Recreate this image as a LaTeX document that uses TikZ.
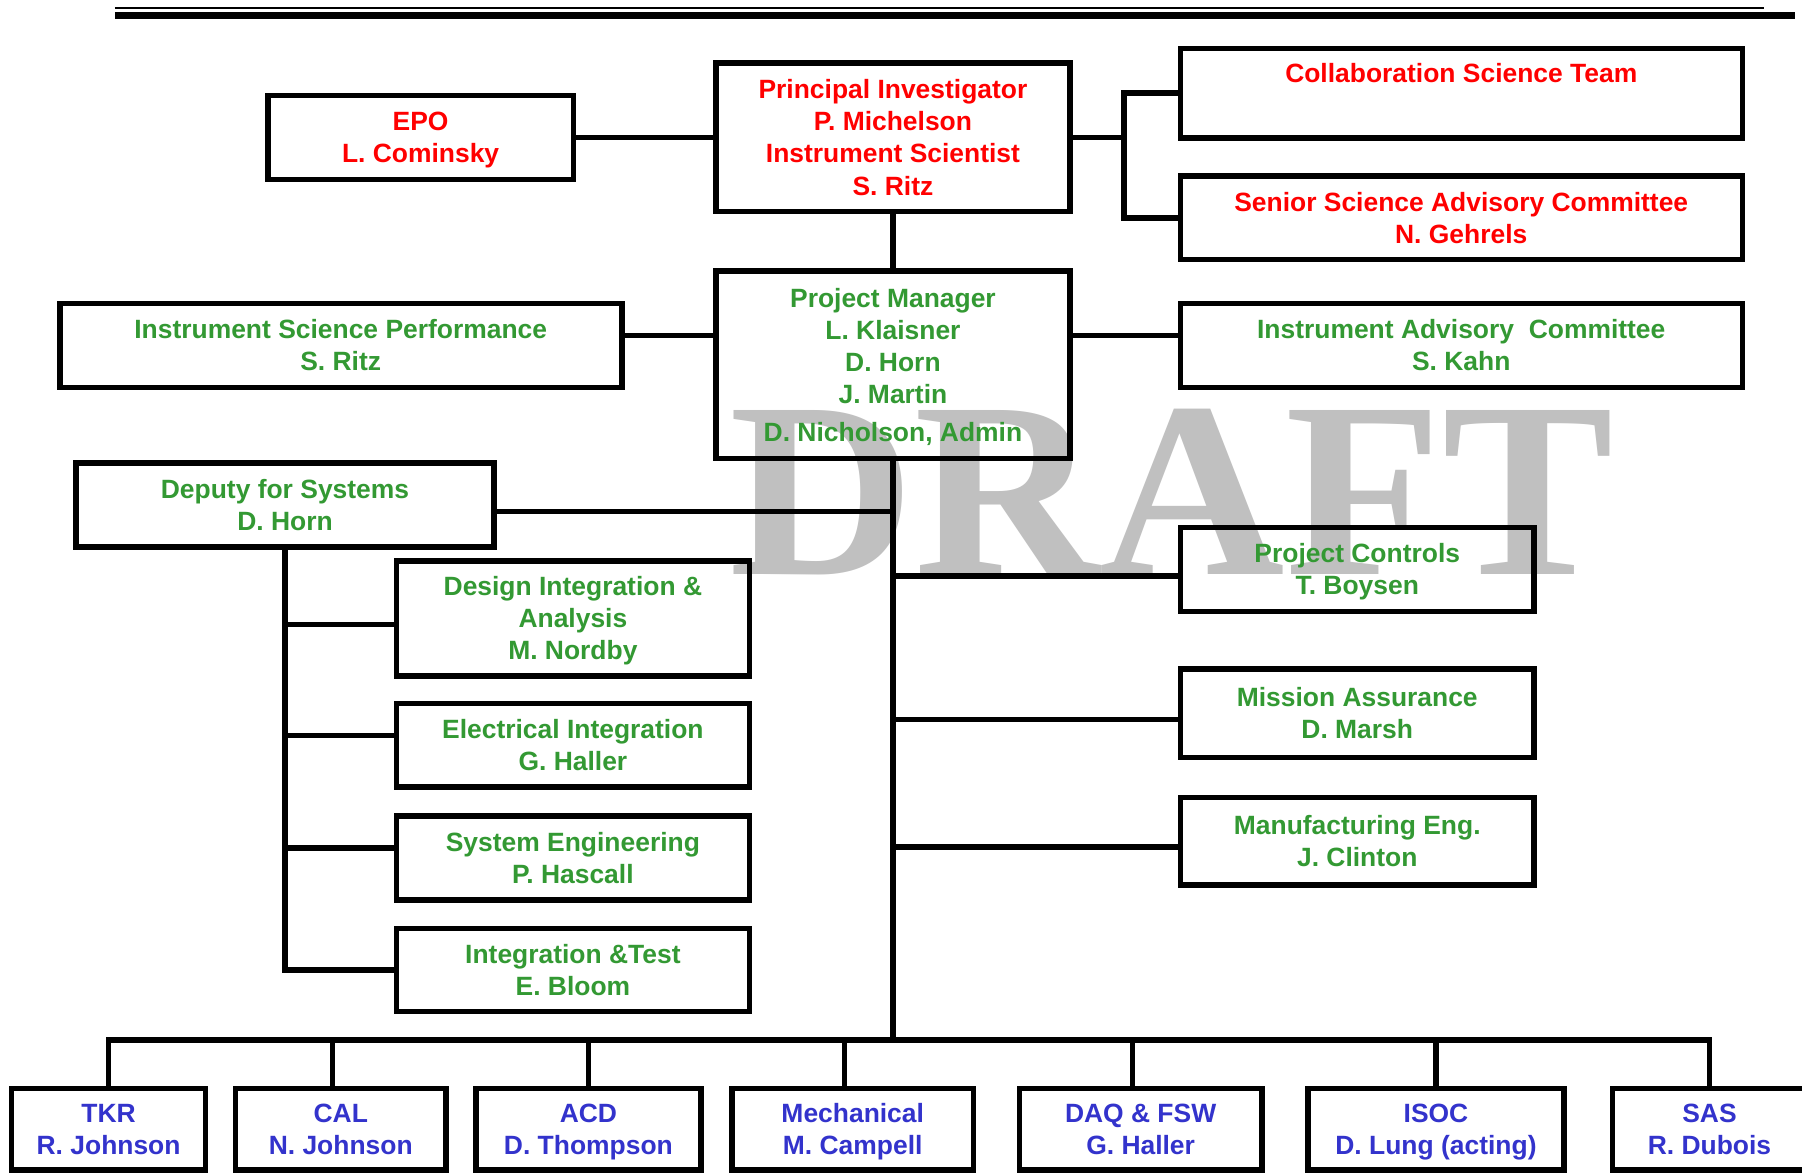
\documentclass[tikz,border=0pt]{standalone}
\usepackage{fontspec}
\setmainfont{Liberation Sans}
\newfontfamily\wmfont{Liberation Serif}
\definecolor{orgred}{RGB}{255,0,0}
\definecolor{orggreen}{RGB}{51,153,51}
\definecolor{orgblue}{RGB}{51,51,204}
\definecolor{wmgray}{RGB}{192,192,192}
\tikzset{
  orgbox/.style={draw=black, line width=2.4pt, inner sep=0pt, outer sep=0pt,
    font=\fontsize{11.5}{14}\selectfont\bfseries, text height=8.23pt},
  link/.style={draw=black, line width=2.4pt, line join=miter},
}
\newcommand\obox[8]{%
  \node[orgbox, text=#6, text depth=#7,
        minimum width={(#4-#2)*0.5pt}, minimum height={(#5-#3)*0.5pt}]
    (#1) at ({(#2+#4)/2},{(#3+#5)/2})
    {\begin{tabular}[t]{@{}c@{}}#8\end{tabular}};}
\begin{document}
\begin{tikzpicture}[x=0.5pt,y=-0.5pt]
\fill[white] (0,0) rectangle (1568,1021);
\useasboundingbox (0,0) rectangle (1568,1021);
% watermark
\node[anchor=base west, inner sep=0pt, text=wmgray,
      font=\wmfont\fontsize{109}{109}\selectfont\bfseries] (wm) at (634,500) {\scalebox{1.025}[1]{DRAFT}};
% top rules
\coordinate (r1a) at (100,6.7); \coordinate (r1b) at (1535,6.7);
\coordinate (r2a) at (100,13.6); \coordinate (r2b) at (1562,13.6);
\draw[line width=0.85pt] (r1a) -- (r1b);
\draw[line width=2.9pt] (r2a) -- (r2b);
% boxes
\obox{epo}{233}{83}{499}{156}{orgred}{14pt}{EPO\\L. Cominsky}
\obox{pi}{623}{55}{931}{184}{orgred}{42pt}{Principal Investigator\\P. Michelson\\Instrument Scientist\\S. Ritz}
\obox{cst}{1027}{42}{1516}{120}{orgred}{17.6pt}{Collaboration Science Team}
\obox{ssac}{1027}{153}{1516}{226}{orgred}{14pt}{Senior Science Advisory Committee\\N. Gehrels}
\obox{pm}{623}{236}{931}{399}{orggreen}{58.5pt}{Project Manager\\L. Klaisner\\D. Horn\\J. Martin\\[2.5pt]D. Nicholson, Admin}
\obox{isp}{52}{264}{541}{337}{orggreen}{14pt}{Instrument Science Performance\\S. Ritz}
\obox{iac}{1027}{264}{1516}{337}{orggreen}{14pt}{Instrument Advisory\ \ Committee\\S. Kahn}
\obox{dep}{66}{403}{430}{476}{orggreen}{14pt}{Deputy for Systems\\D. Horn}
\obox{dia}{345}{488}{652}{588}{orggreen}{28pt}{Design Integration \&\\Analysis\\M. Nordby}
\obox{ei}{345}{612}{652}{685}{orggreen}{14pt}{Electrical Integration\\G. Haller}
\obox{se}{345}{710}{652}{783}{orggreen}{14pt}{System Engineering\\P. Hascall}
\obox{it}{345}{808}{652}{880}{orggreen}{14pt}{Integration \&Test\\E. Bloom}
\obox{pc}{1027}{459}{1335}{532}{orggreen}{14pt}{Project Controls\\T. Boysen}
\obox{ma}{1027}{582}{1335}{659}{orggreen}{14pt}{Mission Assurance\\D. Marsh}
\obox{me}{1027}{694}{1335}{770}{orggreen}{14pt}{Manufacturing Eng.\\J. Clinton}
\obox{tkr}{10}{947}{179}{1018}{orgblue}{14pt}{TKR\\R. Johnson}
\obox{cal}{205}{947}{388}{1018}{orgblue}{14pt}{CAL\\N. Johnson}
\obox{acd}{414}{947}{610}{1018}{orgblue}{14pt}{ACD\\D. Thompson}
\obox{mech}{637}{947}{847}{1018}{orgblue}{14pt}{Mechanical\\M. Campell}
\obox{daq}{887}{947}{1098}{1018}{orgblue}{14pt}{DAQ \& FSW\\G. Haller}
\obox{isoc}{1138}{947}{1361}{1018}{orgblue}{14pt}{ISOC\\D. Lung (acting)}
\obox{sas}{1403}{947}{1572}{1018}{orgblue}{14pt}{SAS\\R. Dubois}
% connectors: top
\coordinate (jr) at (978,119.5);
\draw[link] (epo.east) -- (pi.west);
\draw[link] (pi.east) -- (jr);
\draw[link] (cst.west) -- (cst.west -| jr) -- (ssac.west -| jr) -- (ssac.west);
\draw[link] (pi.south) -- (pm.north);
\coordinate (lm) at (0,292);
\draw[link] (isp.east |- lm) -- (pm.west |- lm);
\draw[link] (pm.east |- lm) -- (iac.west |- lm);
% spine and bus
\coordinate (bus) at (777,905);
\draw[link] (pm.south) -- (pm.south |- bus);
\draw[link] (tkr.north) |- (bus) -| (sas.north);
\coordinate (calt) at ([xshift=-3.5pt]cal.north);
\coordinate (mecht) at ([xshift=-3.5pt]mech.north);
\coordinate (daqt) at ([xshift=-3.5pt]daq.north);
\draw[link] (calt) -- (calt |- bus);
\draw[link] (acd.north) -- (acd.north |- bus);
\draw[link] (mecht) -- (mecht |- bus);
\draw[link] (daqt) -- (daqt |- bus);
\draw[link] (isoc.north) -- (isoc.north |- bus);
% deputy branch
\coordinate (dj) at ([yshift=-2.75pt]dep.east);
\draw[link] (dj) -- (dj -| bus);
\draw[link] (dep.south) |- (it.west);
\coordinate (diaj) at ([yshift=-2.75pt]dia.west);
\coordinate (eij) at ([yshift=4.25pt]ei.west);
\coordinate (sej) at ([yshift=4.25pt]se.west);
\draw[link] (diaj) -- (diaj -| dep.south);
\draw[link] (eij) -- (eij -| dep.south);
\draw[link] (sej) -- (sej -| dep.south);
% right branch
\coordinate (pcj) at ([yshift=-2.75pt]pc.west);
\coordinate (maj) at ([yshift=-2.75pt]ma.west);
\coordinate (mej) at ([yshift=-2.5pt]me.west);
\draw[link] (pcj) -- (pcj -| bus);
\draw[link] (maj) -- (maj -| bus);
\draw[link] (mej) -- (mej -| bus);
\end{tikzpicture}
\end{document}
